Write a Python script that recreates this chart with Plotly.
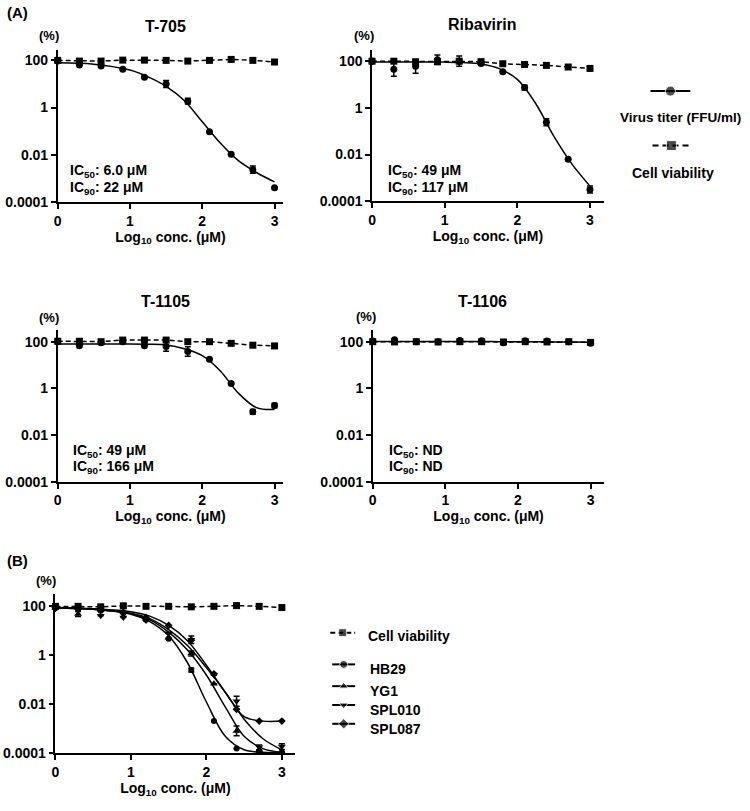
import plotly.graph_objects as go

W, H = 750, 811

# ---------------- data (log10 of % values) ----------------
conc_log10 = [0, 0.3, 0.6, 0.9, 1.2, 1.5, 1.8, 2.1, 2.4, 2.7, 3.0]
fit_x = [0, 0.5, 1.0, 1.25, 1.5, 1.75, 2.0, 2.25, 2.5, 2.75, 3.0]

t705_virus = [1.97, 1.80, 1.76, 1.62, 1.28, 1.00, 0.27, -1.02, -1.98, -2.63, -3.40]
t705_virus_err = [0, 0, 0, 0, 0, 0.15, 0.12, 0, 0, 0.15, 0]
t705_cell = [2.0, 1.97, 1.97, 2.01, 2.01, 2.0, 1.97, 2.0, 2.04, 2.0, 1.93]
t705_fit = [1.90, 1.84, 1.59, 1.30, 0.90, 0.30, -0.60, -1.50, -2.25, -2.75, -3.15]

riba_virus = [2.0, 1.66, 1.78, 2.06, 2.0, 1.90, 1.55, 0.87, -0.61, -2.20, -3.50]
riba_virus_err = [0, 0.3, 0.3, 0.2, 0.22, 0, 0, 0.1, 0.15, 0, 0.15]
riba_cell = [2.0, 2.0, 1.97, 1.98, 2.0, 1.98, 1.89, 1.86, 1.82, 1.75, 1.69]
riba_fit = [1.97, 1.97, 1.96, 1.94, 1.88, 1.68, 1.22, 0.20, -1.20, -2.40, -3.35]

t1105_virus = [2.0, 1.83, 1.96, 2.0, 1.83, 1.79, 1.58, 1.25, 0.21, -1.00, -0.73]
t1105_virus_err = [0, 0, 0, 0, 0, 0.2, 0.2, 0, 0, 0.1, 0.1]
t1105_cell = [2.02, 2.02, 2.0, 2.07, 2.07, 2.07, 2.0, 2.0, 1.93, 1.85, 1.82]
t1105_fit = [1.90, 1.90, 1.90, 1.89, 1.86, 1.70, 1.40, 0.75, -0.20, -0.82, -0.90]

t1106_virus = [2.03, 2.08, 2.0, 2.0, 2.05, 2.04, 1.96, 2.04, 2.03, 2.0, 1.93]
t1106_virus_err = [0, 0, 0, 0, 0, 0, 0, 0, 0, 0, 0]
t1106_cell = [2.0, 1.99, 2.0, 1.99, 2.0, 2.0, 1.99, 2.0, 1.99, 2.0, 1.97]
t1106_fit = [2.01, 2.01, 2.01, 2.01, 2.01, 2.0, 2.0, 2.0, 1.99, 1.99, 1.98]

b_cell = [2.0, 2.0, 1.98, 2.02, 2.0, 2.0, 1.98, 2.0, 2.03, 2.0, 1.95]
hb29 = [1.93, 1.88, 1.82, 1.72, 1.45, 0.68, -0.60, -2.68, -3.80, -3.93, -3.95]
hb29_err = [0, 0, 0, 0, 0, 0, 0.08, 0, 0, 0, 0]
hb29_fit = [1.93, 1.88, 1.68, 1.38, 0.80, -0.30, -1.90, -3.30, -3.85, -3.95, -3.97]
yg1 = [1.93, 1.69, 1.85, 1.78, 1.48, 0.72, 0.08, -1.16, -3.08, -3.85, -3.93]
yg1_err = [0, 0.1, 0, 0, 0, 0, 0.1, 0, 0.2, 0, 0]
yg1_fit = [1.93, 1.88, 1.70, 1.45, 0.95, 0.22, -0.80, -2.10, -3.30, -3.80, -3.95]
spl010 = [1.90, 1.85, 1.62, 1.55, 1.42, 0.90, 0.64, -0.80, -1.87, -3.75, -3.72]
spl010_err = [0, 0, 0, 0, 0, 0, 0.15, 0, 0.2, 0.1, 0.12]
spl010_fit = [1.93, 1.88, 1.72, 1.50, 1.05, 0.40, -0.50, -1.50, -2.60, -3.40, -3.85]
spl087 = [1.95, 1.90, 1.85, 1.75, 1.55, 1.22, 0.62, -0.75, -2.20, -2.68, -2.68]
spl087_fit = [1.95, 1.90, 1.78, 1.60, 1.22, 0.60, -0.40, -1.50, -2.50, -2.68, -2.68]

ytick_vals = [1e-4, 1e-2, 1, 100]
ytick_text = ["0.0001", "0.01", "1", "100"]
xtick_vals = [0, 1, 2, 3]

FONT = "Liberation Sans, Arial, Helvetica, sans-serif"


def pct(v):
    return [10 ** a for a in v]


def eplus(v, e):
    return [10 ** (a + b) - 10 ** a for a, b in zip(v, e)]


def eminus(v, e):
    return [10 ** a - 10 ** (a - b) for a, b in zip(v, e)]


def px_x(p):
    return p / W


def px_y(p):
    return 1 - p / H


def bfont(size):
    return dict(family=FONT, size=size, color="black", weight="bold")


annotations = []


def label(text, x, y, size, anchor="center"):
    annotations.append(dict(text=text, x=px_x(x), y=px_y(y), xref="paper", yref="paper",
                            showarrow=False, xanchor=anchor, yanchor="middle", font=bfont(size)))


fig = go.Figure()

panels = [
    dict(key="", title="T-705", virus=t705_virus, err=t705_virus_err, cell=t705_cell, fit=t705_fit,
         ic50="6.0 μM", ic90="22 μM", x0=54, x1=280.7, xr=3.12, ytop=50, ybot=204, yr=2.46,
         title_xy=(162, 27), pct_xy=(45, 36), ic_xy=(64, 173)),
    dict(key="2", title="Ribavirin", virus=riba_virus, err=riba_virus_err, cell=riba_cell, fit=riba_fit,
         ic50="49 μM", ic90="117 μM", x0=370, x1=603, xr=3.19, ytop=50, ybot=203.3, yr=2.5,
         title_xy=(481, 25), pct_xy=(362, 36), ic_xy=(384, 173)),
    dict(key="3", title="T-1105", virus=t1105_virus, err=t1105_virus_err, cell=t1105_cell, fit=t1105_fit,
         ic50="49 μM", ic90="166 μM", x0=54, x1=280.7, xr=3.12, ytop=333.3, ybot=486.7, yr=2.5,
         title_xy=(162, 304), pct_xy=(45, 321), ic_xy=(67, 455)),
    dict(key="4", title="T-1106", virus=t1106_virus, err=t1106_virus_err, cell=t1106_cell, fit=t1106_fit,
         ic50="ND", ic90="ND", x0=370.7, x1=603.6, xr=3.19, ytop=333.3, ybot=486.7, yr=2.5,
         title_xy=(481, 304), pct_xy=(364, 320), ic_xy=(385, 455)),
]

axis_common = dict(showgrid=False, zeroline=False, showline=True, linecolor="black", linewidth=1.5,
                   ticks="outside", ticklen=5, tickwidth=1.5, tickcolor="black",
                   tickfont=bfont(14))
xtitle = dict(text="Log<sub>10</sub> conc. (μM)", font=bfont(14), standoff=1)

for p in panels:
    k = p["key"]
    xa, ya = "x" + k, "y" + k
    fig.add_trace(go.Scatter(x=conc_log10, y=pct(p["cell"]), mode="lines+markers", xaxis=xa, yaxis=ya,
                             line=dict(color="black", width=1.5, dash="5px,3px"),
                             marker=dict(symbol="square", size=7, color="black"),
                             cliponaxis=False, showlegend=False, name="Cell viability"))
    fig.add_trace(go.Scatter(x=fit_x, y=pct(p["fit"]), mode="lines", xaxis=xa, yaxis=ya,
                             line=dict(color="black", width=1.5, shape="spline", smoothing=1.0),
                             cliponaxis=False, showlegend=False, name="Virus titer fit"))
    fig.add_trace(go.Scatter(x=conc_log10, y=pct(p["virus"]), mode="markers", xaxis=xa, yaxis=ya,
                             marker=dict(symbol="circle", size=7, color="black"),
                             error_y=dict(type="data", symmetric=False, array=eplus(p["virus"], p["err"]),
                                          arrayminus=eminus(p["virus"], p["err"]),
                                          color="black", thickness=1.5, width=3),
                             cliponaxis=False, showlegend=False, name="Virus titer (FFU/ml)"))
    xdom = [px_x(p["x0"]), px_x(p["x1"])]
    ydom = [px_y(p["ybot"]), px_y(p["ytop"])]
    fig.update_layout(**{
        ("xaxis" + k): dict(axis_common, domain=xdom, range=[0, p["xr"]], tickvals=xtick_vals,
                            anchor=ya, title=xtitle),
        ("yaxis" + k): dict(axis_common, domain=ydom, type="log", range=[-4, p["yr"]],
                            tickvals=ytick_vals, ticktext=ytick_text, anchor=xa),
    })
    tx, ty = p["title_xy"]
    label(p["title"], tx, ty, 16)
    cx, cy = p["pct_xy"]
    label("(%)", cx, cy, 13)
    ix, iy = p["ic_xy"]
    label("IC<sub>50</sub>: %s" % p["ic50"], ix, iy, 14, "left")
    label("IC<sub>90</sub>: %s" % p["ic90"], ix, iy + 17, 14, "left")

# ---------------- panel B ----------------
xa, ya = "x5", "y5"
fig.add_trace(go.Scatter(x=conc_log10, y=pct(b_cell), mode="lines+markers", xaxis=xa, yaxis=ya,
                         line=dict(color="black", width=1.5, dash="5px,3px"),
                         marker=dict(symbol="square", size=7, color="black"),
                         cliponaxis=False, showlegend=False, name="Cell viability"))
strains = [
    ("HB29", hb29, hb29_err, hb29_fit, "circle", 6),
    ("YG1", yg1, yg1_err, yg1_fit, "triangle-up", 7),
    ("SPL010", spl010, spl010_err, spl010_fit, "triangle-down", 7),
    ("SPL087", spl087, [0] * len(spl087), spl087_fit, "diamond", 6),
]
for name, vals, errs, fit, sym, sz in strains:
    fig.add_trace(go.Scatter(x=fit_x, y=pct(fit), mode="lines", xaxis=xa, yaxis=ya,
                             line=dict(color="black", width=1.5, shape="spline", smoothing=1.0),
                             cliponaxis=False, showlegend=False, name=name + " fit"))
    fig.add_trace(go.Scatter(x=conc_log10, y=pct(vals), mode="markers", xaxis=xa, yaxis=ya,
                             marker=dict(symbol=sym, size=sz, color="black"),
                             error_y=dict(type="data", symmetric=False, array=eplus(vals, errs),
                                          arrayminus=eminus(vals, errs), color="black", thickness=1.5, width=3),
                             cliponaxis=False, showlegend=False, name=name))

fig.update_layout(
    xaxis5=dict(axis_common, domain=[px_x(51.7), px_x(293)], range=[0, 3.18], tickvals=xtick_vals, anchor="y5",
                title=xtitle),
    yaxis5=dict(axis_common, domain=[px_y(761), px_y(600)], type="log", range=[-4, 2.5],
                tickvals=ytick_vals, ticktext=ytick_text, anchor="x5"),
)
label("(%)", 42, 586, 13)
label("(A)", 1, 13, 15, "left")
label("(B)", 1, 566, 15, "left")

# ---------------- legends (drawn on an overlay axis in pixel space) ----------------
la, lb = "x6", "y6"
fig.update_layout(
    xaxis6=dict(domain=[0, 1], range=[0, W], visible=False, fixedrange=True, anchor="y6"),
    yaxis6=dict(domain=[0, 1], range=[H, 0], visible=False, fixedrange=True, anchor="x6"),
)


def legend_icon(x0, x1, y, dash, sym, size):
    fig.add_trace(go.Scatter(x=[x0, (x0 + x1) / 2, x1], y=[y, y, y], mode="lines+markers", xaxis=la, yaxis=lb,
                             line=dict(color="black", width=2, dash=dash),
                             marker=dict(symbol=sym, size=[0, size, 0], color="black"),
                             cliponaxis=False, showlegend=False, hoverinfo="skip"))


legend_icon(650, 690, 92, "solid", "circle", 10)
label("Virus titer (FFU/ml)", 617, 119, 13.5, "left")
legend_icon(652, 690, 147, "6px,4px", "square", 10)
label("Cell viability", 673, 175, 14)

legend_icon(328, 353, 639, "5px,3px", "square", 8)
label("Cell viability", 364, 642, 14, "left")
b_leg = [("HB29", "circle", 671), ("YG1", "triangle-up", 693), ("SPL010", "triangle-down", 712),
         ("SPL087", "diamond", 731)]
for name, sym, y in b_leg:
    legend_icon(330, 353, y, "solid", sym, 8)
    label(name, 366, y + 5, 14, "left")

fig.update_layout(
    width=W, height=H, margin=dict(l=0, r=0, t=0, b=0),
    paper_bgcolor="white", plot_bgcolor="rgba(0,0,0,0)",
    showlegend=False, annotations=annotations,
    font=dict(family=FONT, color="black"),
)

fig.write_html("out.html", config={"displayModeBar": False},
               post_script="document.body.style.margin='0';document.body.style.overflow='hidden';")
